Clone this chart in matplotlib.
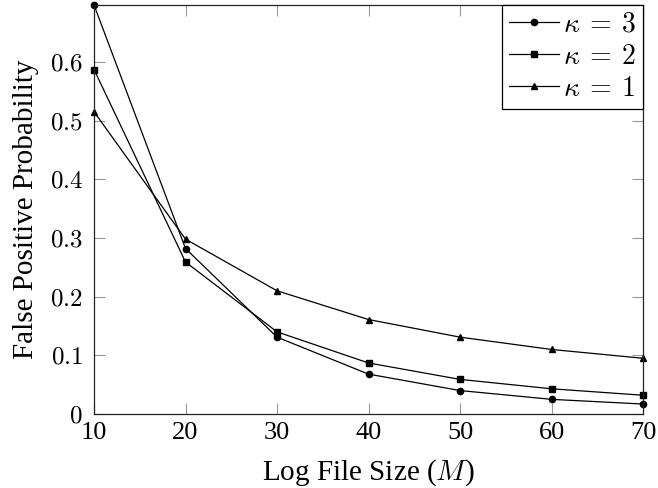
import numpy as np
import matplotlib
matplotlib.use("Agg")
import matplotlib.pyplot as plt

plt.rcParams['font.family'] = ['Liberation Serif', 'DejaVu Serif']
plt.rcParams['mathtext.fontset'] = 'cm'

# data
log_size = [10, 20, 30, 40, 50, 60, 70]
fp_k3 = [0.697, 0.282, 0.131, 0.068, 0.040, 0.025, 0.017]
fp_k2 = [0.587, 0.259, 0.140, 0.087, 0.059, 0.043, 0.032]
fp_k1 = [0.515, 0.298, 0.210, 0.161, 0.131, 0.110, 0.095]
y_ticks = [0, 0.1, 0.2, 0.3, 0.4, 0.5, 0.6]
y_tick_labels = ["0", "0.1", "0.2", "0.3", "0.4", "0.5", "0.6"]

fig = plt.figure(figsize=(6.58, 4.88), dpi=100)
ax = fig.add_axes([0.1429, 0.1516, 0.9772 - 0.1429, 0.9898 - 0.1516])

ax.plot(log_size, fp_k3, color='black', lw=0.9, marker='o', ms=4.5, label=r'$\kappa\:=\:3$', clip_on=False)
ax.plot(log_size, fp_k2, color='black', lw=0.9, marker='s', ms=4.5, label=r'$\kappa\:=\:2$', clip_on=False)
ax.plot(log_size, fp_k1, color='black', lw=0.9, marker='^', ms=4.0, label=r'$\kappa\:=\:1$', clip_on=False)

ax.set_xlim(10, 70)
ax.set_ylim(0, max(fp_k3))
ax.set_xticks(log_size)
ax.set_xticklabels([str(v) for v in log_size], fontsize=19)
ax.set_yticks(y_ticks)
ax.set_yticklabels(['$' + t + '$' for t in y_tick_labels], fontsize=18)
ax.tick_params(direction='in', length=8, width=0.8, color='#999999',
               top=True, right=True)
ax.tick_params(axis='x', pad=6)
ax.tick_params(axis='y', pad=8)
for s in ax.spines.values():
    s.set_linewidth(0.9)
    s.set_color('#222222')

ax.set_xlabel(r'Log File Size ($M$)', fontsize=21, labelpad=9)
ax.set_ylabel('False Positive Probability', fontsize=21, labelpad=8)

leg = ax.legend(loc='upper right', fontsize=20, frameon=True, fancybox=False,
                edgecolor='black', framealpha=1, borderaxespad=0,
                handlelength=1.8, handletextpad=0.15, labelspacing=0.25, borderpad=0.25)
leg.get_frame().set_linewidth(0.9)

fig.savefig('out.png', dpi=100)
